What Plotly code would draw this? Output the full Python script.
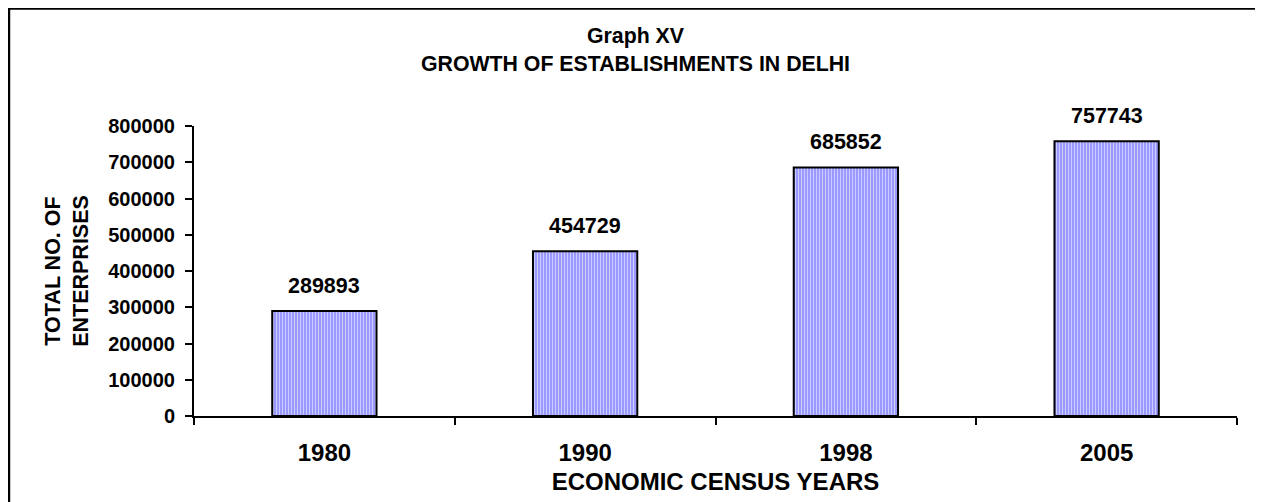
import plotly.graph_objects as go

years = ["1980", "1990", "1998", "2005"]
establishments = [289893, 454729, 685852, 757743]
y_ticks = [0, 100000, 200000, 300000, 400000, 500000, 600000, 700000, 800000]

FONT = "Liberation Sans, Arial, Helvetica, sans-serif"

fig = go.Figure()
fig.add_trace(go.Bar(
    x=years,
    y=establishments,
    marker=dict(
        color="#9999FF",
        line=dict(color="black", width=2),
        pattern=dict(shape="|", fgcolor="white", bgcolor="#9999FF",
                     size=3, solidity=0.35, fillmode="overlay"),
    ),
    showlegend=False,
    hoverinfo="x+y",
))

# value labels above the bars (category axis -> use category index)
for i, v in enumerate(establishments):
    fig.add_annotation(
        x=i, y=v, text=str(v), showarrow=False,
        yanchor="middle", yshift=25,
        font=dict(family=FONT, size=21.5, color="black", weight="bold"),
    )

# outer frame
fig.add_shape(type="rect", xref="paper", yref="paper",
              x0=-0.1774, x1=1.0192, y0=-0.5, y1=1.4055,
              line=dict(color="black", width=2.5), fillcolor="rgba(0,0,0,0)",
              layer="below")

W, H = 1255, 494
fig.update_layout(
    width=W, height=H,
    margin=dict(l=186, r=26, t=118, b=86, autoexpand=False),
    paper_bgcolor="white", plot_bgcolor="white",
    font=dict(family=FONT, color="black"),
    bargap=0.6,
    title=dict(
        text="Graph XV<br>GROWTH OF ESTABLISHMENTS IN DELHI",
        x=0.5, xref="container", xanchor="center",
        y=1 - 35 / H, yref="container", yanchor="top",
        font=dict(family=FONT, size=21.3, color="black", weight="bold"),
    ),
    xaxis=dict(
        type="category", range=[-0.5, 3.5],
        showline=True, linecolor="black", linewidth=2,
        ticks="outside", tickson="boundaries", ticklen=7, tickwidth=2, tickcolor="black",
        tickangle=0, ticklabelstandoff=14,
        tickfont=dict(family=FONT, size=24, color="black", weight="bold"),
        title=dict(text="ECONOMIC CENSUS YEARS", standoff=8,
                   font=dict(family=FONT, size=24, color="black", weight="bold")),
        showgrid=False, zeroline=False, automargin=False,
    ),
    yaxis=dict(
        range=[0, 800000],
        tickvals=y_ticks, ticktext=[str(t) for t in y_ticks],
        showline=True, linecolor="black", linewidth=2,
        ticks="outside", ticklen=7, tickwidth=2, tickcolor="black",
        ticklabelstandoff=6,
        tickfont=dict(family=FONT, size=20, color="black", weight="bold"),
        title=dict(text="TOTAL NO. OF<br>ENTERPRISES", standoff=14,
                   font=dict(family=FONT, size=21.5, color="black", weight="bold")),
        showgrid=False, zeroline=False, automargin=False,
    ),
)

fig.write_html("out.html")
